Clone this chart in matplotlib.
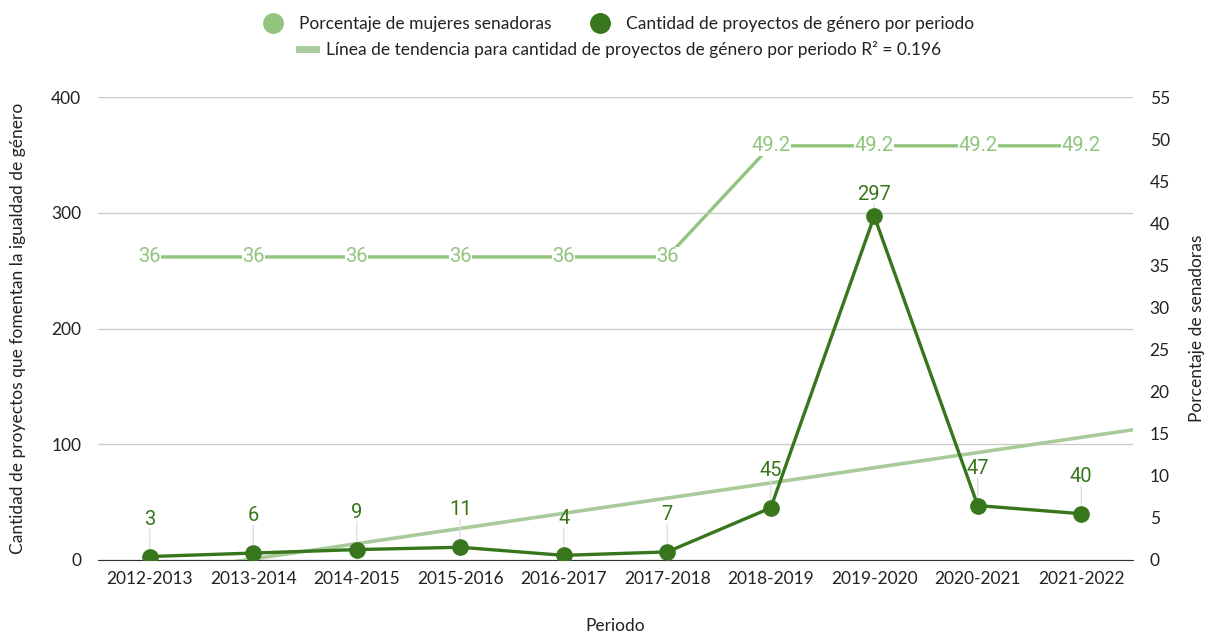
import matplotlib
matplotlib.use("Agg")
import matplotlib.pyplot as plt
from matplotlib.lines import Line2D
import numpy as np

periods = ["2012-2013", "2013-2014", "2014-2015", "2015-2016", "2016-2017",
           "2017-2018", "2018-2019", "2019-2020", "2020-2021", "2021-2022"]
projects = [3, 6, 9, 11, 4, 7, 45, 297, 47, 40]
pct_women = [36, 36, 36, 36, 36, 36, 49.2, 49.2, 49.2, 49.2]
pct_labels = ["36", "36", "36", "36", "36", "36", "49.2", "49.2", "49.2", "49.2"]
left_ticks = [0, 100, 200, 300, 400]
right_ticks = list(range(0, 56, 5))

LIGHT = "#93c47d"
DARK = "#38761d"
TREND = "#a9cb9b"
TXT = "#222222"

fig = plt.figure(figsize=(12.16, 6.36), dpi=100)
ax = fig.add_axes([98/1216, 1-560/636, (1133-98)/1216, (560-97)/636])
ax2 = ax.twinx()
ax.set_zorder(ax2.get_zorder() + 1)
ax.patch.set_visible(False)

x = np.arange(len(periods))

# gridlines
ax.set_ylim(0, 400)
ax.set_xlim(-0.5, len(periods) - 0.5)
ax.set_yticks(left_ticks)
ax.yaxis.grid(True, color="#cccccc", linewidth=1)
ax.set_axisbelow(True)
ax2.set_ylim(0, 55)
ax2.set_yticks(right_ticks)

# percentage series (right axis)
ax2.plot(x, pct_women, color=LIGHT, linewidth=2.4, zorder=2)
for xi, yi, lab in zip(x, pct_women, pct_labels):
    ax2.text(xi, yi, lab, ha="center", va="center", color=LIGHT, fontsize=14.5,
             family="Roboto", bbox=dict(boxstyle="square,pad=0.02", fc="white", ec="none"),
             zorder=3)

# trendline (linear fit of projects)
coef = np.polyfit(x, projects, 1)
xt = np.array([-0.5, len(periods) - 0.5])
ax.plot(xt, np.polyval(coef, xt), color=TREND, linewidth=2.6, zorder=2)

# project series
ax.plot(x, projects, color=DARK, linewidth=2.4, marker="o", markersize=11, zorder=4)
for xi, yi in zip(x, projects):
    off = 9 if yi > 200 else 20
    ax.annotate(str(yi), (xi, yi), xytext=(0, off), textcoords="offset points",
                ha="center", va="bottom", color=DARK, fontsize=14.5, family="Roboto", zorder=5)
    # leader line
    ax.annotate("", (xi, yi), xytext=(0, off), textcoords="offset points",
                arrowprops=dict(arrowstyle="-", color="#e0e0e0", lw=1, shrinkA=0, shrinkB=6),
                zorder=3)

for a in (ax, ax2):
    for s in ("top", "left", "right"):
        a.spines[s].set_visible(False)
    a.tick_params(length=0, labelsize=12, labelcolor=TXT)
ax.spines["bottom"].set_color("#333333")
ax2.spines["bottom"].set_visible(False)

ax.set_xticks(x)
ax.set_xticklabels(periods, family="Lato", fontsize=12.5)
for lab in ax.get_yticklabels() + ax2.get_yticklabels():
    lab.set_family("Lato")
    lab.set_fontsize(12.5)
ax.tick_params(axis="y", pad=12)
ax2.tick_params(axis="y", pad=12)
ax.tick_params(axis="x", pad=8)

ax.set_xlabel("Periodo", family="Lato", fontsize=12.5, color=TXT, labelpad=22)
ax.set_ylabel("Cantidad de proyectos que fomentan la igualdad de género", family="Lato",
              fontsize=12.5, color=TXT, labelpad=18)
ax2.set_ylabel("Porcentaje de senadoras", family="Lato", fontsize=12.5, color=TXT, labelpad=14)

# legends
h1 = [Line2D([], [], linestyle="none", marker="o", markersize=14, color=LIGHT),
      Line2D([], [], linestyle="none", marker="o", markersize=14, color=DARK)]
leg1 = fig.legend(h1, ["Porcentaje de mujeres senadoras",
                       "Cantidad de proyectos de género por periodo"],
                  loc="center", bbox_to_anchor=(615/1216, 1-24/636), ncol=2, frameon=False,
                  prop={"family": "Lato", "size": 12.5}, handletextpad=0.5, columnspacing=1.8)
for t in leg1.get_texts():
    t.set_color(TXT)
h2 = [Line2D([], [], color=TREND, linewidth=5)]
r2 = np.corrcoef(x, projects)[0, 1] ** 2
leg2 = fig.legend(h2, [f"Línea de tendencia para cantidad de proyectos de género por periodo R² = {r2:.3f}"],
                  loc="center", bbox_to_anchor=(620/1216, 1-50/636), frameon=False,
                  prop={"family": "Lato", "size": 12.5}, handlelength=1.0, handletextpad=0.6)
for t in leg2.get_texts():
    t.set_color(TXT)

fig.savefig("out.png", dpi=100)
